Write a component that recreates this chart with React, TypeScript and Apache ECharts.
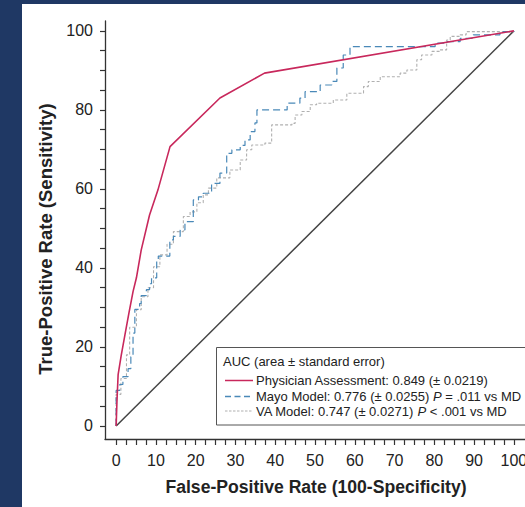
import React, { useEffect, useRef } from "react";
import * as echarts from "echarts";

const FONT = "'Liberation Sans', Arial, Helvetica, sans-serif";

const xTickLabels = [0, 10, 20, 30, 40, 50, 60, 70, 80, 90, 100];
const yTickLabels = [0, 20, 40, 60, 80, 100];

const physicianFpr = [0, 0.2, 0.5, 1.3, 2.2, 3.2, 4.25, 5.1, 6.3, 8.4, 10.5, 13.55, 26.1, 37.3, 100];
const physicianTpr = [0, 6, 13, 18, 23, 28.5, 34, 37.5, 44.5, 53.4, 59.7, 70.7, 83, 89.3, 100];

const mayoFpr = [0, 0, 0.9, 1.7, 3.0, 3.7, 4.25, 4.7, 5.9, 6.3, 7.6, 8.4, 8.9, 10.2, 10.6, 13.5, 14.4, 16.1, 17.3, 19.4, 20.7, 21.9, 24.0, 26.1, 27.8, 29.1, 31.2, 32.4, 33.7, 34.9, 35.4, 43.0, 46.2, 47.5, 51.3, 54.2, 55.5, 57.1, 58.8, 80.2, 83.1, 86.5, 89.8, 96.5, 100];
const mayoTpr = [0, 9, 10.5, 12.5, 14.5, 17.5, 23.5, 29.5, 31, 33, 34.5, 36, 37.5, 42, 43, 47.1, 48, 49.6, 51.7, 57.2, 58, 58.9, 61.4, 64, 69, 69.9, 71, 72.4, 74.5, 76.7, 80, 81.7, 83, 84.6, 86.3, 87.2, 90.6, 93.9, 96, 96.9, 97.3, 98.1, 99, 99.8, 100];

const vaFpr = [0, 0, 1.2, 2.6, 3.4, 5.1, 6.3, 8.0, 9.4, 11, 12.8, 14.4, 16.9, 18.6, 20.3, 21.9, 23.2, 25.3, 28.6, 31.2, 32.8, 34.1, 37.4, 39.1, 44.2, 45, 46.7, 48.8, 50.4, 54.6, 58, 62.2, 63.4, 66.4, 71.4, 73.1, 75.6, 76.8, 79.4, 81.4, 83.1, 84, 86.5, 88, 100];
const vaTpr = [0, 8, 12, 18, 25, 29.4, 32.7, 35, 40.3, 43.3, 46, 49.2, 53, 54.2, 56.5, 58.5, 60.2, 62.8, 64.8, 67.3, 69.9, 71.1, 71.6, 76.2, 76.6, 78.7, 79.6, 81.3, 81.7, 82.5, 84.2, 85.9, 87.2, 88.4, 89.3, 90.1, 92.7, 93.9, 94.8, 95.2, 97.7, 98.6, 99, 99.8, 100];

const chanceFpr = [0, 100];
const chanceTpr = [0, 100];

const legendTitle = "AUC (area ± standard error)";
const legendLabels = [
  "Physician Assessment: 0.849 (± 0.0219)",
  "Mayo Model: 0.776 (± 0.0255) {i|P} = .011 vs MD",
  "VA Model: 0.747 (± 0.0271) {i|P} < .001 vs MD",
];

const xTitle = "False-Positive Rate (100-Specificity)";
const yTitle = "True-Positive Rate (Sensitivity)";

const PINK = "#c8285c";
const BLUE = "#4a89b8";
const GRAY = "#b0b0b0";
const NAVY = "#1f3864";

const zip = (a: number[], b: number[]) => a.map((v, i) => [v, b[i]]);

export default function App() {
  const ref = useRef<HTMLDivElement>(null);
  useEffect(() => {
    if (!ref.current) return;
    const chart = echarts.init(ref.current, null, { renderer: "svg" });
    const xMinor: number[] = [];
    for (let v = 0; v <= 100; v += 2.5) xMinor.push(v);
    const yMinor: number[] = [];
    for (let v = 0; v <= 100; v += 5) yMinor.push(v);

    const legendX = 216.5;
    const legendY = 347.5;
    const rowY = [380.5, 396.5, 411];
    const lineX1 = 225;
    const lineX2 = 253;
    const textX = 256;
    const richI = { i: { fontStyle: "italic", fontSize: 13, fontFamily: FONT, fill: "#222" } };

    chart.setOption({
      animation: false,
      backgroundColor: NAVY,
      grid: { left: 105, right: 0, top: 21, bottom: 68, containLabel: false, outerBoundsMode: "none" },
      xAxis: {
        type: "value",
        position: "bottom",
        min: -2.8,
        max: 102.8,
        axisLine: { show: true, onZero: false, lineStyle: { color: "#333", width: 1.3 } },
        axisTick: { show: true, inside: false, length: 6, customValues: xMinor, lineStyle: { color: "#333", width: 1.2 } },
        axisLabel: { customValues: xTickLabels, inside: false, margin: 13, fontSize: 16, color: "#222", fontFamily: FONT },
        splitLine: { show: false },
      },
      yAxis: {
        type: "value",
        position: "left",
        min: -3.3,
        max: 102.5,
        axisLine: { show: true, onZero: false, lineStyle: { color: "#333", width: 1.3 } },
        axisTick: { show: true, inside: false, length: 5, customValues: yMinor, lineStyle: { color: "#333", width: 1.2 } },
        axisLabel: { customValues: yTickLabels, inside: false, margin: 12, fontSize: 16, color: "#222", fontFamily: FONT },
        splitLine: { show: false },
      },
      series: [
        {
          type: "line",
          data: zip(chanceFpr, chanceTpr),
          showSymbol: false,
          lineStyle: { color: "#444", width: 1.5 },
          z: 1,
        },
        {
          type: "line",
          name: "VA",
          data: zip(vaFpr, vaTpr),
          step: "end",
          showSymbol: false,
          lineStyle: { color: GRAY, width: 1.1, type: [3, 2] },
          z: 2,
        },
        {
          type: "line",
          name: "Mayo",
          data: zip(mayoFpr, mayoTpr),
          step: "end",
          showSymbol: false,
          lineStyle: { color: BLUE, width: 1.2, type: [7, 4] },
          z: 3,
        },
        {
          type: "line",
          name: "Physician",
          data: zip(physicianFpr, physicianTpr),
          showSymbol: false,
          lineStyle: { color: PINK, width: 1.6 },
          z: 4,
        },
      ],
      graphic: [
        {
          type: "rect",
          z: -100,
          silent: true,
          shape: { x: 22, y: 4, width: 510, height: 510 },
          style: { fill: "#ffffff" },
        },
        {
          type: "text",
          z: 10,
          x: 45.5,
          y: 239,
          rotation: Math.PI / 2,
          style: {
            text: yTitle,
            fontSize: 18.5,
            fontWeight: "bold",
            fontFamily: FONT,
            fill: "#222",
            align: "center",
            verticalAlign: "middle",
          },
        },
        {
          type: "text",
          z: 10,
          x: 316,
          y: 487,
          style: {
            text: xTitle,
            fontSize: 17.6,
            fontWeight: "bold",
            fontFamily: FONT,
            fill: "#222",
            align: "center",
            verticalAlign: "middle",
          },
        },
        {
          type: "rect",
          z: 10,
          shape: { x: legendX, y: legendY, width: 330, height: 77.5 },
          style: { fill: "#ffffff", stroke: "#555", lineWidth: 1 },
        },
        {
          type: "text",
          z: 11,
          x: 223,
          y: 361,
          style: { text: legendTitle, fontSize: 13, fontFamily: FONT, fill: "#222", verticalAlign: "middle" },
        },
        {
          type: "line",
          z: 11,
          shape: { x1: lineX1, y1: rowY[0], x2: lineX2, y2: rowY[0] },
          style: { stroke: PINK, lineWidth: 1.5 },
        },
        {
          type: "line",
          z: 11,
          shape: { x1: lineX1, y1: rowY[1], x2: lineX2, y2: rowY[1] },
          style: { stroke: BLUE, lineWidth: 1.3, lineDash: [6, 3.5] },
        },
        {
          type: "line",
          z: 11,
          shape: { x1: lineX1, y1: rowY[2], x2: lineX2, y2: rowY[2] },
          style: { stroke: GRAY, lineWidth: 1.2, lineDash: [2.5, 1.5] },
        },
        ...legendLabels.map((t, i) => ({
          type: "text",
          z: 11,
          x: textX,
          y: rowY[i],
          style: { text: t, fontSize: 13, fontFamily: FONT, fill: "#222", verticalAlign: "middle", rich: richI },
        })),
      ],
    });
    return () => chart.dispose();
  }, []);
  return (
    <div
      ref={ref}
      style={{ position: "fixed", left: 0, top: 0, width: 525, height: 507 }}
    />
  );
}
